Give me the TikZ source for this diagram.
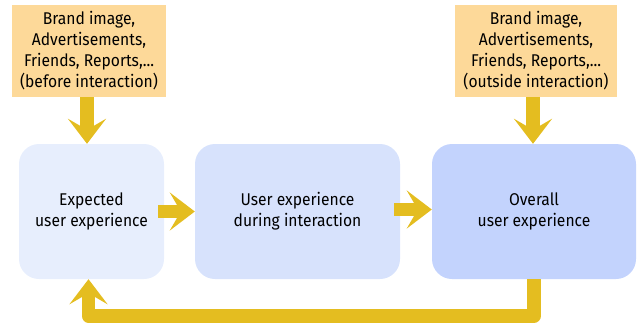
\documentclass[tikz,border=0pt]{standalone}
\usepackage{fontspec}
\setmainfont{Fira Sans}[FakeStretch=0.92]
\usetikzlibrary{arrows.meta}

\definecolor{srcfill}{HTML}{FDD999}
\definecolor{flow}{HTML}{E4BD20}
\definecolor{expfill}{HTML}{E7EEFD}
\definecolor{durfill}{HTML}{D7E2FC}
\definecolor{allfill}{HTML}{C3D3FD}

\begin{document}
\begin{tikzpicture}[x=1pt,y=-1pt,
  txt/.style={font=\fontsize{17}{21}\selectfont, align=center, inner sep=0pt},
  src/.style={txt, fill=srcfill, minimum height=92pt},
  stage/.style={txt, rounded corners=20pt, minimum height=135pt},
  flowarrow/.style={draw=flow, line width=13.5pt, line join=round,
    -{Stealth[length=25pt, width=38pt, inset=11pt]}}
]
\useasboundingbox (0,0) rectangle (637,322);

% sources of expectation
\node[src, minimum width=154pt] (o1) at (89,51)
  {Brand image,\\Advertisements,\\Friends, Reports,...\\(before interaction)};
\node[src, minimum width=162pt] (o2) at (536,51)
  {Brand image,\\Advertisements,\\Friends, Reports,...\\(outside interaction)};

% the three stages
\node[stage, fill=expfill, minimum width=145pt] (b1) at (91.5,211.5)
  {Expected\\user experience};
\node[stage, fill=durfill, minimum width=205pt] (b2) at (297.5,211.5)
  {User experience\\during interaction};
\node[stage, fill=allfill, minimum width=204pt] (b3) at (534,211.5)
  {Overall\\user experience};

\coordinate (fb) at (0,316);

% flows
\draw[flowarrow] ([xshift=-2pt]o1.south) -- ([xshift=-2pt]o1.south |- b1.north);
\draw[flowarrow] ([xshift=-3pt]o2.south) -- ([xshift=-3pt]o2.south |- b3.north);
\draw[flowarrow] ([xshift=-6pt]b1.east) -- (b2.west);
\draw[flowarrow] ([xshift=-6pt,yshift=2pt]b2.east) -- ([yshift=2pt]b3.west);
\draw[flowarrow] (b3.south) -- (b3.south |- fb) -| ([xshift=-3pt]b1.south);
\end{tikzpicture}
\end{document}
